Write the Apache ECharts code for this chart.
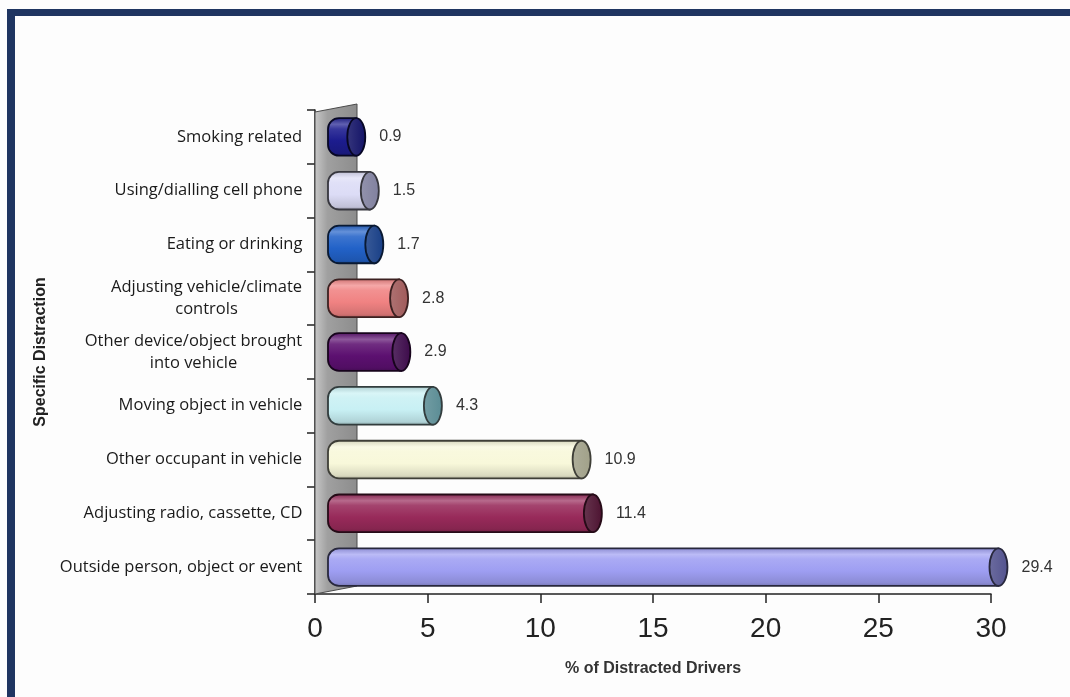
<!DOCTYPE html>
<html>
<head>
<meta charset="utf-8">
<title>Specific Distraction</title>
<script src="https://cdn.jsdelivr.net/npm/echarts@6/dist/echarts.min.js"></script>
<style>
    html, body { margin: 0; padding: 0; background: #fdfdfd; }
    #chart { width: 1070px; height: 697px; }
</style>
</head>
<body>
<div id="chart"></div>
<script>
// 数据（自上而下）
const categories = [
    'Smoking related',
    'Using/dialling cell phone',
    'Eating or drinking',
    'Adjusting vehicle/climate\ncontrols',
    'Other device/object brought\ninto vehicle',
    'Moving object in vehicle',
    'Other occupant in vehicle',
    'Adjusting radio, cassette, CD',
    'Outside person, object or event'
];
const values = [0.9, 1.5, 1.7, 2.8, 2.9, 4.3, 10.9, 11.4, 29.4];
const barColors = ['#1c1c8e', '#dcdcf6', '#2262c8', '#f08282', '#5c1070', '#c8f0f4', '#f8f8da', '#982a5a', '#9e9ef2'];
const capColors = ['#121266', '#80809e', '#173e86', '#a05a5a', '#3c0a4a', '#5a8c94', '#a0a088', '#4c1230', '#52528e'];
const xMin = 0, xMax = 30, xStep = 5;

const labelFont = '16.5px "Open Sans", sans-serif';

// 颜色混合
function mix(hex, target, t) {
    const a = parseInt(hex.slice(1), 16);
    const r = (a >> 16) & 255, g = (a >> 8) & 255, b = a & 255;
    const m = c => Math.round(c + (target - c) * t);
    return 'rgb(' + m(r) + ',' + m(g) + ',' + m(b) + ')';
}

// 多行标签：每行在标签块内居中
const measureCtx = document.createElement('canvas').getContext('2d');
measureCtx.font = labelFont;
const labelRich = {};
categories.forEach((c, i) => {
    const w = Math.max(...c.split('\n').map(s => measureCtx.measureText(s).width));
    labelRich['l' + i] = {
        fontFamily: '"Open Sans", sans-serif',
        fontSize: 16.5,
        color: '#1a1a1a',
        lineHeight: 22,
        width: Math.ceil(w) + 1,
        align: 'center'
    };
});

const chart = echarts.init(document.getElementById('chart'));

// 左侧灰色背景墙
function renderWall(params, api) {
    const cs = params.coordSys;
    const x0 = cs.x, x1 = cs.x + 42;
    const top = cs.y, bottom = cs.y + cs.height;
    return {
        type: 'polygon',
        shape: { points: [[x0, top + 2], [x1, top - 6], [x1, bottom - 8], [x0, bottom]] },
        style: {
            fill: {
                type: 'linear', x: 0, y: 0, x2: 1, y2: 0,
                colorStops: [
                    { offset: 0, color: '#c8c8c8' },
                    { offset: 0.3, color: '#a0a0a0' },
                    { offset: 1, color: '#8c8c8c' }
                ]
            },
            stroke: '#4a4a4a',
            lineWidth: 1
        }
    };
}

// 圆柱形条
function renderBar(params, api) {
    const idx = api.value(0);
    const v = api.value(1);
    const start = api.coord([0, idx]);
    const end = api.coord([v, idx]);
    const h = api.size([0, 1])[1] * 0.7;
    const x0 = start[0] + 13;
    const x1 = end[0] + 21;
    const cy = start[1];
    const rx = 9;
    const base = barColors[params.dataIndex];
    const cap = capColors[params.dataIndex];
    const edge = mix(base, 0, 0.75);
    return {
        type: 'group',
        children: [
            {
                type: 'rect',
                shape: { x: x0, y: cy - h / 2, width: x1 - x0, height: h, r: [11, 0, 0, 11] },
                style: {
                    fill: {
                        type: 'linear', x: 0, y: 0, x2: 0, y2: 1,
                        colorStops: [
                            { offset: 0, color: mix(base, 0, 0.15) },
                            { offset: 0.18, color: mix(base, 255, 0.3) },
                            { offset: 0.3, color: mix(base, 255, 0.12) },
                            { offset: 0.6, color: base },
                            { offset: 0.9, color: mix(base, 0, 0.12) },
                            { offset: 1, color: mix(base, 0, 0.3) }
                        ]
                    },
                    stroke: edge,
                    lineWidth: 1.8
                }
            },
            {
                type: 'ellipse',
                shape: { cx: x1, cy: cy, rx: rx, ry: h / 2 },
                style: {
                    fill: {
                        type: 'linear', x: 0, y: 0, x2: 1, y2: 0,
                        colorStops: [
                            { offset: 0, color: mix(cap, 255, 0.15) },
                            { offset: 1, color: cap }
                        ]
                    },
                    stroke: edge,
                    lineWidth: 1.8
                }
            },
            {
                type: 'text',
                style: {
                    x: x1 + rx + 14,
                    y: cy,
                    text: String(v),
                    fill: '#333',
                    font: '16px "Liberation Sans", Arial, sans-serif',
                    verticalAlign: 'middle'
                }
            }
        ]
    };
}

const option = {
    animation: false,
    backgroundColor: '#fdfdfd',
    graphic: [
        { type: 'rect', shape: { x: 7, y: 9, width: 1063, height: 7 }, style: { fill: '#1f3561' }, z: 10 },
        { type: 'rect', shape: { x: 7, y: 9, width: 8, height: 688 }, style: { fill: '#1f3561' }, z: 10 }
    ],
    grid: {
        left: 315,
        right: 79,
        top: 110,
        bottom: 103,
        containLabel: false
    },
    xAxis: {
        type: 'value',
        min: xMin,
        max: xMax,
        interval: xStep,
        name: '% of Distracted Drivers',
        nameLocation: 'middle',
        nameGap: 67,
        nameTextStyle: {
            fontFamily: '"Liberation Sans", Arial, sans-serif',
            fontWeight: 'bold',
            fontSize: 16,
            color: '#333'
        },
        axisLine: { show: true, lineStyle: { color: '#222', width: 1.5 } },
        axisTick: { show: true, length: 9, lineStyle: { color: '#222', width: 1.5 } },
        axisLabel: {
            fontFamily: '"Liberation Sans", Arial, sans-serif',
            fontSize: 28,
            color: '#222',
            margin: 21
        },
        splitLine: { show: false }
    },
    yAxis: {
        type: 'category',
        data: categories,
        inverse: true,
        name: 'Specific Distraction',
        nameLocation: 'middle',
        nameRotate: 90,
        nameGap: 260,
        nameTextStyle: {
            fontFamily: '"Liberation Sans", Arial, sans-serif',
            fontWeight: 'bold',
            fontSize: 16,
            color: '#222'
        },
        axisLine: { show: true, lineStyle: { color: '#222', width: 1.5 } },
        axisTick: { show: true, length: 8, lineStyle: { color: '#222', width: 1.5 } },
        axisLabel: {
            margin: 12,
            align: 'right',
            formatter: function (value, index) {
                return value.split('\n').map(s => '{l' + index + '|' + s + '}').join('\n');
            },
            rich: labelRich
        }
    },
    series: [
        {
            type: 'custom',
            name: 'wall',
            renderItem: renderWall,
            data: [[0, 0]],
            encode: { x: 0, y: 1 },
            z: 1,
            silent: true
        },
        {
            type: 'custom',
            name: 'bars',
            renderItem: renderBar,
            data: values.map((v, i) => [i, v]),
            encode: { x: 1, y: 0 },
            z: 2
        }
    ]
};

chart.setOption(option);
</script>
</body>
</html>
